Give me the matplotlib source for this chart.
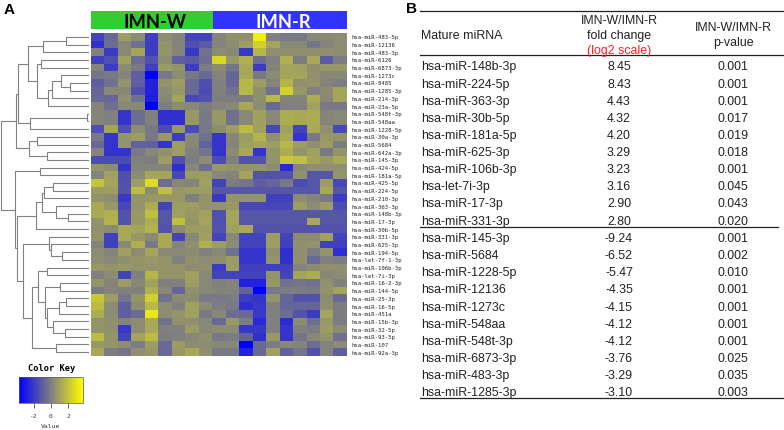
"""Heatmap of miRNA expression with dendrogram (A) and fold change table (B)."""

import matplotlib
matplotlib.use("Agg")
import matplotlib.pyplot as plt
from matplotlib.cm import ScalarMappable
from matplotlib.colors import LinearSegmentedColormap, Normalize, TwoSlopeNorm

W, H = 784, 431

row_labels = [
    "hsa-miR-483-5p", "hsa-miR-12136", "hsa-miR-483-3p", "hsa-miR-6126", "hsa-miR-6873-3p",
    "hsa-miR-1273c", "hsa-miR-8485", "hsa-miR-1285-3p", "hsa-miR-214-3p", "hsa-miR-23a-5p",
    "hsa-miR-548t-3p", "hsa-miR-548aa", "hsa-miR-1228-5p", "hsa-miR-30a-3p", "hsa-miR-5684",
    "hsa-miR-642a-3p", "hsa-miR-145-3p", "hsa-miR-424-5p", "hsa-miR-181a-5p", "hsa-miR-425-5p",
    "hsa-miR-224-5p", "hsa-miR-210-3p", "hsa-miR-363-3p", "hsa-miR-148b-3p", "hsa-miR-17-3p",
    "hsa-miR-30b-5p", "hsa-miR-331-3p", "hsa-miR-625-3p", "hsa-miR-194-5p", "hsa-let-7f-1-3p",
    "hsa-miR-106b-3p", "hsa-let-7i-3p", "hsa-miR-16-2-3p", "hsa-miR-144-5p", "hsa-miR-25-3p",
    "hsa-miR-16-5p", "hsa-miR-451a", "hsa-miR-15b-3p", "hsa-miR-32-5p", "hsa-miR-93-5p",
    "hsa-miR-107", "hsa-miR-92a-3p",
]

heat_values = [
    [-1.6, -0.6, 0.7, 0.3, -1.7, 0.3, 0.1, -1.6, -1.6, 0.1, 0.4, 0.4, 2.8, 0.0, -0.2, -0.2, 0.2, 0.2, 0.3],
    [-2.1, -0.5, 0.2, -0.4, -1.8, 0.5, 0.1, -1.3, -1.0, 0.1, 0.3, 0.7, 2.0, 0.9, 0.2, 0.2, -0.3, 0.1, 0.3],
    [0.0, -1.8, 0.2, 0.9, -1.8, 0.5, 0.1, -1.9, -0.4, 0.3, 0.2, -1.9, 1.4, 0.4, 0.4, 0.4, 0.4, 0.4, 0.3],
    [-1.7, -1.3, 0.8, -0.5, -1.2, 0.3, -0.9, -1.0, -0.5, 2.2, 0.6, 1.2, -0.5, 0.0, 1.2, -0.1, 1.0, -1.0, -0.1],
    [0.1, -1.8, 0.3, -0.2, -1.7, 0.7, 0.5, -1.8, -0.1, 0.3, -0.3, 1.0, -1.8, 0.1, 0.9, 0.8, 0.4, 0.6, 0.6],
    [-0.3, -0.2, 0.1, -0.9, -3.4, -0.2, 0.3, -0.2, -0.6, 0.1, -0.7, 1.0, -0.2, 0.3, 0.9, 0.9, 0.4, 0.2, 0.2],
    [-0.9, -0.4, 0.5, -0.9, -2.5, 0.5, 0.7, -0.6, -1.3, 0.0, -0.7, 1.4, 0.7, 0.1, 1.3, 0.4, 0.5, 0.1, -0.1],
    [-0.7, 0.2, 0.2, -1.3, -2.5, 0.3, 0.6, -0.6, -1.4, 0.0, -0.4, 1.4, 0.4, -0.4, 2.0, 0.6, 0.0, 0.3, 0.9],
    [-0.6, -0.7, 0.4, -0.4, -2.6, 0.2, 0.9, -1.5, -1.2, -0.1, -0.1, -0.1, 0.4, 1.4, 0.1, 0.1, 1.1, 0.2, 0.9],
    [0.1, -0.4, 0.2, 0.2, -3.4, -0.1, 0.3, 0.2, -0.1, 0.1, 0.2, 1.0, 0.3, -0.6, 0.0, 0.0, 0.8, -0.2, -0.2],
    [0.1, 0.0, -2.0, -0.5, 0.0, -2.1, -2.1, 0.6, -0.2, 0.6, -0.4, 0.2, 0.8, 0.2, 1.1, 1.0, 1.1, 0.1, 0.2],
    [0.1, 0.0, -2.0, -0.5, 0.0, -2.1, -2.1, 0.6, -0.2, 0.6, -0.4, 0.2, 0.8, 0.2, 1.1, 1.0, 1.1, 0.1, 0.2],
    [-1.3, 0.9, -1.3, 0.3, -0.2, -1.4, 0.6, -1.4, -0.2, 0.3, 0.7, 1.5, 0.8, -1.5, 0.8, -1.6, 1.0, 0.4, -1.5],
    [-0.2, -2.0, 0.5, 0.7, -0.2, 0.6, -1.8, 0.2, -0.4, -2.0, 0.2, 0.7, 1.3, 0.4, 1.0, -2.0, -0.2, 0.6, 0.5],
    [-0.6, -2.0, 0.5, -0.8, -0.8, -2.0, 0.7, 0.2, -0.8, -2.0, 0.1, 0.8, 0.9, 0.7, 1.4, 0.7, 0.4, 0.7, -0.1],
    [0.1, -2.0, -2.0, -0.2, 0.2, 0.4, 0.7, 0.0, -0.3, -2.0, 0.3, 1.0, -2.0, 0.5, 1.1, 0.5, 0.8, -0.2, 0.5],
    [-1.4, -1.4, -1.4, 0.0, -0.1, 0.7, -1.3, -0.1, 0.3, -1.4, 0.0, -1.2, -1.2, 0.5, 1.8, 1.6, 0.9, 0.6, 1.0],
    [0.5, 0.3, -2.0, 0.1, 0.1, 0.1, -2.2, 0.2, -0.5, 0.6, 0.5, 0.5, 0.5, 0.3, -2.3, 0.2, 0.4, 0.4, 0.4],
    [0.1, 0.8, -1.3, 0.3, 0.9, 0.9, -1.5, 0.7, 0.7, 0.2, 0.1, 0.9, -1.2, -1.2, -1.2, 0.4, -1.1, -1.1, 0.5],
    [1.7, 0.9, -1.2, 0.7, 2.3, -0.5, 0.2, 0.1, 0.8, -1.6, -0.1, -0.3, -0.9, -0.7, -0.2, -1.4, -1.1, 0.7, -1.5],
    [0.7, 0.7, -1.2, 1.5, 0.3, 1.6, 0.6, 0.7, 0.7, -1.1, -1.1, -1.1, -1.1, -1.1, -1.1, -1.1, -1.1, 1.0, -1.1],
    [0.5, 0.3, -1.9, 0.5, 0.6, 0.6, 0.6, 0.0, 0.5, -1.9, 0.5, 0.5, 0.5, -1.7, -1.7, 0.3, 0.1, -0.2, -1.8],
    [1.0, 0.6, -1.5, 0.5, 1.1, -1.6, 0.7, 0.7, 0.5, 0.5, 0.6, -1.5, -1.5, -1.5, -1.5, 0.7, 0.3, 0.7, -1.4],
    [1.0, 1.2, -1.2, 0.6, 1.6, -1.1, 0.8, 0.6, 0.8, -1.3, 0.9, -1.1, -1.1, -1.1, -1.1, -1.1, -1.1, -1.1, -1.1],
    [0.5, 1.3, -1.2, 0.6, 1.1, -1.1, 1.6, 0.5, 0.9, -1.3, 0.9, -1.1, -1.1, -1.1, -1.1, -1.1, 1.0, -1.1, -1.1],
    [0.4, 0.3, 1.0, 0.9, 1.3, -1.2, 0.3, 0.7, 0.7, -1.2, 0.8, 1.0, -1.2, -1.2, -1.2, -1.2, -1.2, -1.2, -1.2],
    [0.5, -1.7, 1.0, 0.6, 0.3, 1.0, -1.6, 0.2, 0.8, -1.6, 0.2, -1.6, -1.6, 0.7, -1.6, 0.3, 0.3, 0.8, -1.6],
    [0.1, -1.7, 0.2, 1.2, -0.2, 1.0, 0.1, 0.4, 1.2, 0.7, 0.3, -1.6, -1.6, 0.7, -1.7, 0.4, 0.5, -1.7, -1.7],
    [0.3, 0.1, 0.8, 0.3, 0.9, 0.2, 0.2, 0.3, 0.0, 0.2, -0.4, -2.0, -2.0, 0.4, -2.2, 0.4, -0.1, 0.5, -2.2],
    [0.4, 0.2, 0.4, 0.5, 0.6, 0.5, 0.0, 0.4, 0.3, 0.4, 0.7, -2.0, -2.0, 0.5, -2.1, 0.4, -0.6, 0.0, -0.1],
    [0.6, 0.5, 0.6, 0.5, 0.5, 0.5, 0.5, 0.3, 0.4, -1.8, 0.7, -1.7, -1.7, -1.7, -1.7, 0.1, 0.3, 0.4, 0.4],
    [0.0, 0.3, -1.6, 0.0, 1.3, 0.5, 0.5, 0.8, 0.2, -1.6, -1.6, -1.6, -1.6, 0.5, -1.6, 0.9, 1.1, 0.2, 0.3],
    [0.5, 0.1, 0.7, 0.2, 0.8, 0.0, 0.0, 0.7, 0.2, 0.0, 0.1, -2.5, -2.5, 0.6, -0.4, -0.3, -0.4, 0.4, 0.0],
    [-0.1, 0.1, 0.0, 0.0, 1.2, 0.2, -0.7, 0.4, 0.2, 0.1, 0.1, -0.8, -3.4, -0.2, -0.1, -0.1, -0.2, 0.5, 0.9],
    [1.8, 0.7, -0.3, 0.5, 2.0, -0.4, 0.3, 0.3, -0.2, -0.2, -0.1, -1.8, -2.0, 0.5, -0.7, -1.2, -1.2, 0.3, -0.6],
    [1.5, 0.3, -0.9, 0.3, 1.4, 0.3, 0.0, 0.8, 0.3, -0.1, -0.2, -2.2, -1.9, 0.0, -0.7, -0.7, -0.7, 0.4, -0.1],
    [1.1, 0.3, -0.9, -0.5, 2.6, 0.3, 0.5, 0.8, -0.2, 0.2, -0.5, -0.6, -1.9, 0.0, -0.5, -1.2, -1.8, 0.9, -0.1],
    [0.5, 0.4, 0.1, 0.3, 1.0, -0.4, 0.4, 0.4, 0.2, -0.6, 0.6, -0.1, -2.3, 0.0, -2.3, 0.3, -0.5, 0.6, -0.1],
    [0.5, 0.4, -1.9, 0.3, 1.0, 0.0, 0.0, 0.7, 0.2, 0.3, 0.3, -1.9, -1.9, 0.0, -2.0, 0.0, -0.1, 0.7, 0.3],
    [1.5, 0.5, -1.6, 0.9, 1.5, -0.1, 0.0, 0.2, 0.4, -0.2, -0.1, -0.8, -2.1, 0.6, -2.0, -0.3, 0.2, 0.5, -0.4],
    [0.6, 0.5, 0.3, -0.1, 0.7, -0.6, 0.7, 0.3, 0.3, 0.2, 0.2, -3.4, -0.6, -0.1, 0.2, 0.1, -0.5, 0.1, 0.3],
    [1.0, -0.1, -0.3, 0.4, 0.6, -0.6, 0.6, 1.0, 0.4, -0.2, -0.2, -2.5, -0.6, 0.8, -0.8, -0.3, -1.2, 0.1, -0.9],
]

# dendrogram as (merge position, upper child, lower child), leaves are row numbers
tree_top = (18, (28, (43, (66, 0, 1), 2),
                 (37, (41, 3, 4), (48, (52, (61, 5, (70, 6, 7)), 8), 9))),
            (30, (87, 10, 11), 12))
tree_mid = (29, (37, 13, 14), (47, 15, 16))
tree_a = (16, tree_top, tree_mid)
tree_upper = (36, (42, (44, (53, 19, 20), 21), (56, 22, (68, 23, 24))), 25)
tree_right = (38, (47, 30, 31),
              (45, (60, 32, 33), (47, (59, (66, 34, 35), 36), (53, 37, (65, 38, 39)))))
tree_lower = (23, (49, 26, (51, 27, (62, 28, 29))), (32, tree_right, (56, 40, 41)))
tree_b = (15, (40, 17, 18), (17, tree_upper, tree_lower))
tree_root = (0.5, tree_a, tree_b)

mirna_up = ["hsa-miR-148b-3p", "hsa-miR-224-5p", "hsa-miR-363-3p", "hsa-miR-30b-5p", "hsa-miR-181a-5p",
            "hsa-miR-625-3p", "hsa-miR-106b-3p", "hsa-let-7i-3p", "hsa-miR-17-3p", "hsa-miR-331-3p"]
fold_up = ["8.45", "8.43", "4.43", "4.32", "4.20", "3.29", "3.23", "3.16", "2.90", "2.80"]
pval_up = ["0.001", "0.001", "0.001", "0.017", "0.019", "0.018", "0.001", "0.045", "0.043", "0.020"]
mirna_down = ["hsa-miR-145-3p", "hsa-miR-5684", "hsa-miR-1228-5p", "hsa-miR-12136", "hsa-miR-1273c",
              "hsa-miR-548aa", "hsa-miR-548t-3p", "hsa-miR-6873-3p", "hsa-miR-483-3p", "hsa-miR-1285-3p"]
fold_down = ["-9.24", "-6.52", "-5.47", "-4.35", "-4.15", "-4.12", "-4.12", "-3.76", "-3.29", "-3.10"]
pval_down = ["0.001", "0.002", "0.010", "0.001", "0.001", "0.001", "0.001", "0.025", "0.035", "0.003"]

plt.rcParams["font.family"] = ["Liberation Sans", "DejaVu Sans"]
blue_yellow = LinearSegmentedColormap.from_list("by", ["#0000ff", "#808080", "#ffff00"])


def px_axes(fig, x0, y0, x1, y1):
    return fig.add_axes([x0 / W, 1 - y1 / H, (x1 - x0) / W, (y1 - y0) / H])


fig = plt.figure(figsize=(W / 100, H / 100), dpi=100)

# overlay in pixel coordinates for dendrogram, bars, table
bg = fig.add_axes([0, 0, 1, 1])
bg.set_xlim(0, W)
bg.set_ylim(H, 0)
bg.axis("off")

# --- A: heatmap ---
hx0, hx1, hy0, hy1 = 91, 347, 34, 357
ax = px_axes(fig, hx0, hy0, hx1, hy1)
ax.imshow(heat_values, cmap=blue_yellow, norm=TwoSlopeNorm(vmin=-3.4, vcenter=0, vmax=3.2),
          aspect="auto", interpolation="nearest")
ax.axis("off")

row_h = (hy1 - hy0) / len(row_labels)
row_y = [hy0 + row_h * (i + 0.5) for i in range(len(row_labels))]
for y, label in zip(row_y, row_labels):
    bg.text(352, y, label, family="DejaVu Sans Mono", fontsize=4.05, va="center", ha="left", color="#222222")

# group bar
bg.fill_between([91, 212.7], 12, 30, color="#33cc33", lw=0)
bg.fill_between([212.7, 347], 12, 30, color="#3333ff", lw=0)
bg.text(155, 22, "IMN-W", family="Lato", fontweight="bold", fontsize=13.2, ha="center", va="center", color="black")
bg.text(283, 22, "IMN-R", family="Lato", fontweight="bold", fontsize=13.2, ha="center", va="center", color="white")


# --- dendrogram ---
def draw_node(node):
    if isinstance(node, int):
        return 88, row_y[node]
    x, upper, lower = node
    ux, uy = draw_node(upper)
    lx, ly = draw_node(lower)
    bg.plot([ux, x, x, lx], [uy, uy, ly, ly], color="#808080", lw=0.8, solid_joinstyle="miter")
    return x, (uy + ly) / 2


draw_node(tree_root)

# --- color key ---
cax = px_axes(fig, 19, 377.7, 83, 404)
fig.colorbar(ScalarMappable(Normalize(-3.76, 3.76), blue_yellow), cax=cax, orientation="horizontal", ticks=[-2, 0, 2])
cax.set_xticklabels(["-2", "0", "2"], family="DejaVu Sans Mono", fontsize=4.6, color="#333333")
cax.tick_params(length=3.5, width=0.6, color="#555555", pad=4)
for spine in cax.spines.values():
    spine.set_linewidth(0.5)
    spine.set_color("#555555")
bg.text(52, 369, "Color Key", family="DejaVu Sans Mono", fontweight="bold", fontsize=6.3, ha="center", va="center")
bg.text(51, 427, "Value", family="DejaVu Sans Mono", fontsize=4.6, ha="center", va="center", color="#333333")

# --- panel letters ---
bg.text(3.5, 10, "A", fontsize=11, fontweight="bold", va="center", ha="left")
bg.text(406, 9, "B", fontsize=11, fontweight="bold", va="center", ha="left")

# --- B: table ---
TEXT = "#222222"
FS = 8.9
col_name, col_fold, col_p = 421, 619, 733
nudge = 0.7

bg.text(col_name, 35 + nudge, "Mature miRNA", fontsize=FS, va="center", ha="left", color=TEXT)
bg.text(col_fold, 20 + nudge, "IMN-W/IMN-R", fontsize=FS, va="center", ha="center", color=TEXT)
bg.text(col_fold, 35 + nudge, "fold change", fontsize=FS, va="center", ha="center", color=TEXT)
bg.text(col_fold, 50 + nudge, "(log2 scale)", fontsize=FS, va="center", ha="center", color="#ff2020")
bg.text(col_p, 27 + nudge, "IMN-W/IMN-R", fontsize=FS, va="center", ha="center", color=TEXT)
bg.text(col_p, 42 + nudge, "p-value", fontsize=FS, va="center", ha="center", color=TEXT)

for start, names, folds, pvals in [(66.7, mirna_up, fold_up, pval_up), (238.3, mirna_down, fold_down, pval_down)]:
    for i, (name, fold, pval) in enumerate(zip(names, folds, pvals)):
        y = start + 17.13 * i + nudge
        bg.text(col_name, y, name, fontsize=FS, va="center", ha="left", color=TEXT)
        bg.text(col_fold, y, fold, fontsize=FS, va="center", ha="center", color=TEXT)
        bg.text(col_p, y, pval, fontsize=FS, va="center", ha="center", color=TEXT)

bg.plot([420, 783], [12, 12], color="#222222", lw=0.9)
bg.plot([420, 783], [56, 56], color="#222222", lw=0.9)
bg.plot([420, 778], [228, 228], color="#222222", lw=0.9)
bg.plot([420, 783], [399, 399], color="#222222", lw=0.9)

plt.savefig("out.png", dpi=100)
